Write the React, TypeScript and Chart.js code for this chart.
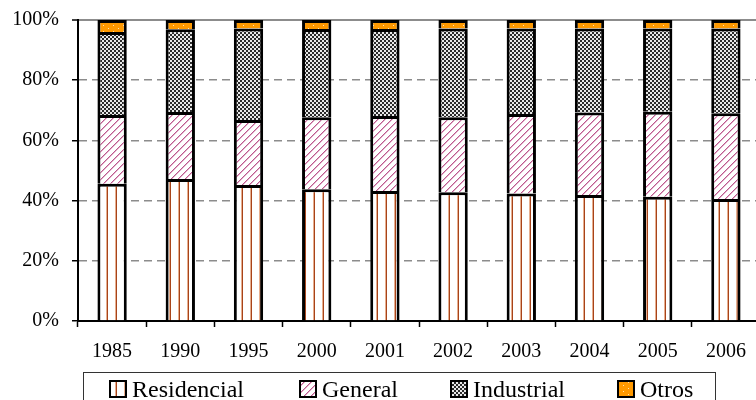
import React, { useEffect, useRef } from 'react';
import { Chart, registerables } from 'chart.js';

Chart.register(...registerables);

const years = ['1985', '1990', '1995', '2000', '2001', '2002', '2003', '2004', '2005', '2006'];
const residencial = [45.6, 47.2, 45.2, 43.8, 43.2, 42.8, 42.4, 41.9, 41.3, 40.5];
const general = [22.8, 22.2, 21.6, 23.9, 24.9, 24.9, 26.4, 27.4, 28.2, 28.5];
const industrial = [27.6, 27.5, 30.4, 29.3, 28.9, 29.5, 28.4, 27.9, 27.7, 28.2];
const otros = [4.0, 3.1, 2.8, 3.0, 3.0, 2.8, 2.8, 2.8, 2.8, 2.8];
const seriesNames = ['Residencial', 'General', 'Industrial', 'Otros'];
const yMin = 0;
const yMax = 100;
const yStep = 20;

const FONT = "'Liberation Serif', 'Times New Roman', serif";

function makePattern(w: number, h: number, draw: (c: CanvasRenderingContext2D) => void): CanvasPattern {
  const cv = document.createElement('canvas');
  cv.width = w;
  cv.height = h;
  const c = cv.getContext('2d')!;
  draw(c);
  return c.createPattern(cv, 'repeat')!;
}

function buildPatterns() {
  const resid = makePattern(9, 4, (c) => {
    c.fillStyle = '#ffffff';
    c.fillRect(0, 0, 9, 4);
    c.fillStyle = '#e6ae8e';
    c.fillRect(7, 0, 1, 4);
    c.fillStyle = '#a8441a';
    c.fillRect(8, 0, 1, 4);
  });
  const gen = makePattern(7, 7, (c) => {
    c.fillStyle = '#ffffff';
    c.fillRect(0, 0, 7, 7);
    for (let i = 0; i < 7; i++) {
      c.fillStyle = '#bb5a8e';
      c.fillRect(i, 6 - i, 1, 1);
      c.fillStyle = '#e4aeca';
      c.fillRect((i + 1) % 7, 6 - i, 1, 1);
    }
  });
  const ind = makePattern(4, 4, (c) => {
    for (let x = 0; x < 4; x++) {
      for (let y = 0; y < 4; y++) {
        const dark = (Math.floor(x / 2) + Math.floor(y / 2)) % 2 === 0;
        c.fillStyle = dark ? '#2a2a2a' : '#e8e8e8';
        c.fillRect(x, y, 1, 1);
      }
    }
  });
  const otr = makePattern(10, 6, (c) => {
    c.fillStyle = '#ff9900';
    c.fillRect(0, 0, 10, 6);
    c.fillStyle = '#ffe0b0';
    c.fillRect(3, 1, 1, 1);
    c.fillRect(8, 4, 1, 1);
  });
  return [resid, gen, ind, otr];
}

const legendPlugin = {
  id: 'boxLegend',
  afterDraw(chart: any) {
    const ctx: CanvasRenderingContext2D = chart.ctx;
    const ds = chart.data.datasets;
    const boxX = [110, 300, 451, 618];
    ctx.save();
    ctx.strokeStyle = '#333333';
    ctx.lineWidth = 1;
    ctx.strokeRect(83.5, 372.5, 632, 40);
    ctx.font = `24px ${FONT}`;
    ctx.textBaseline = 'alphabetic';
    ctx.textAlign = 'left';
    ds.forEach((d: any, i: number) => {
      const x = boxX[i];
      ctx.fillStyle = d.backgroundColor;
      ctx.fillRect(x, 381, 16, 16);
      ctx.strokeStyle = '#000';
      ctx.lineWidth = 2;
      ctx.strokeRect(x, 381, 16, 16);
      ctx.fillStyle = '#000';
      ctx.fillText(d.label, x + 22, 397);
    });
    ctx.restore();
  },
};

export default function App() {
  const ref = useRef<HTMLCanvasElement>(null);

  useEffect(() => {
    if (!ref.current) return;
    const pats = buildPatterns();
    const values = [residencial, general, industrial, otros];
    const chart = new Chart(ref.current, {
      type: 'bar',
      data: {
        labels: years,
        datasets: values.map((v, i) => ({
          label: seriesNames[i],
          data: v,
          backgroundColor: pats[i] as any,
          borderColor: '#000',
          borderWidth: { top: 3, left: 3, right: 3, bottom: 0 } as any,
          borderSkipped: false as any,
          barPercentage: 0.43,
          categoryPercentage: 1,
        })),
      },
      options: {
        animation: false,
        responsive: false,
        devicePixelRatio: 1,
        layout: { padding: { left: 0, right: 2, top: 20, bottom: 0 } },
        plugins: {
          legend: { display: false },
          tooltip: { enabled: false },
        },
        font: { family: FONT } as any,
        scales: {
          x: {
            stacked: true,
            offset: true,
            grid: {
              offset: true,
              drawOnChartArea: false,
              drawTicks: true,
              tickLength: 6,
              tickColor: '#000',
              tickWidth: 1.5,
            },
            border: { color: '#000', width: 2 },
            ticks: {
              font: { family: FONT, size: 20 },
              color: '#000',
              padding: 13,
              maxRotation: 0,
              autoSkip: false,
            },
            afterFit: (s: any) => {
              s.height = 79;
              s.paddingLeft = 0;
              s.paddingRight = 0;
            },
          },
          y: {
            stacked: true,
            min: yMin,
            max: yMax,
            ticks: {
              stepSize: yStep,
              font: { family: FONT, size: 20 },
              color: '#000',
              padding: 13,
              callback: (v: any) => `${v}%`,
            },
            grid: {
              color: (c: any) => (c.tick && c.tick.value === yMin ? 'rgba(0,0,0,0)' : '#8c8c8c'),
              lineWidth: (c: any) => (c.tick && c.tick.value === yMax ? 2 : 1.5),
              tickColor: '#000',
              tickLength: 6,
              tickWidth: 1.5,
            },
            border: {
              color: '#000',
              width: 2,
              dash: (c: any) => (c.tick && c.tick.value === yMax ? [] : [8, 5]),
            } as any,
            afterFit: (s: any) => {
              s.width = 78;
              s.paddingTop = 0;
              s.paddingBottom = 0;
            },
          },
        },
      },
      plugins: [legendPlugin],
    });
    return () => chart.destroy();
  }, []);

  return (
    <div style={{ position: 'absolute', left: 0, top: 0, width: 756, height: 400, overflow: 'hidden', background: '#fff' }}>
      <canvas ref={ref} width={762} height={400} style={{ display: 'block' }} />
    </div>
  );
}
